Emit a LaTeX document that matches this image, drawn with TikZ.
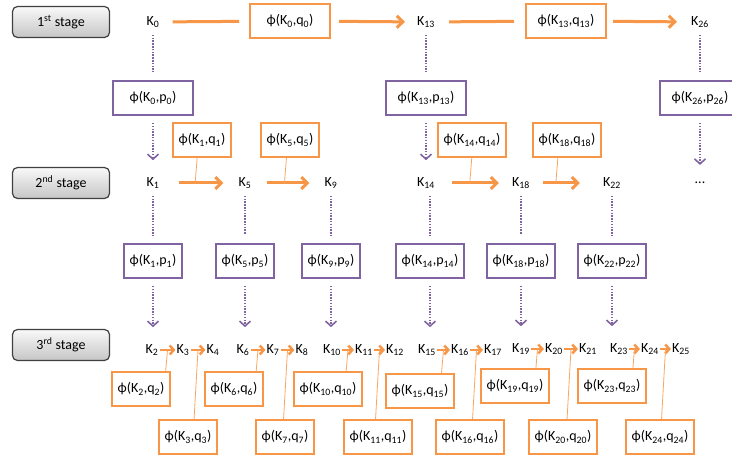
\documentclass[tikz,border=0pt]{standalone}
\usepackage{fontspec}
\setmainfont{Carlito}
\usetikzlibrary{arrows.meta}
\definecolor{keyorange}{HTML}{F79646}
\definecolor{keypurple}{HTML}{8064A2}
\newcommand{\K}[1]{K\textsubscript{#1}}
\newcommand{\fq}[1]{ϕ(K\textsubscript{#1},q\textsubscript{#1})}
\newcommand{\fp}[1]{ϕ(K\textsubscript{#1},p\textsubscript{#1})}

\begin{document}
\begin{tikzpicture}[x=1pt,y=-1pt,font=\fontsize{14pt}{16pt}\selectfont,
  stagebox/.style={draw=black!75, line width=1.2pt, rounded corners=5pt,
    top color=gray!5, bottom color=gray!45, minimum width=97pt, minimum height=31pt},
  keynode/.style={inner sep=1pt},
  qbox/.style={draw=keyorange, line width=2pt, fill=white, minimum height=34pt, inner xsep=6pt},
  pbox/.style={draw=keypurple, line width=2pt, fill=white, minimum height=34pt, inner xsep=6pt},
  wide/.style={minimum width=80pt},
  qline/.style={draw=keyorange, line width=3pt},
  qarrow/.style={qline, -{Straight Barb[length=6pt,width=12pt]}},
  qtie/.style={draw=keyorange!85, line width=0.8pt},
  pline/.style={draw=keypurple, line width=2pt, dash pattern=on 1.5pt off 1.3pt, shorten <=6pt, shorten >=8pt},
  parrow/.style={pline, -{Straight Barb[length=5pt,width=11pt,line width=1.6pt]}, shorten <=7pt, shorten >=16pt}]
  %%%%% START %%%%%
  \useasboundingbox (0,0) rectangle (732,457);

  \node[stagebox] (s1) at (61,22) {1\textsuperscript{st} stage};
  \node[stagebox] (s2) at (61,183) {2\textsuperscript{nd} stage};
  \node[stagebox] (s3) at (61,345) {3\textsuperscript{rd} stage};

  % 1st stage
  \node[keynode] (k0) at (153,22) {\K{0}};
  \node[keynode] (k13) at (426,22) {\K{13}};
  \node[keynode] (k26) at (700,22) {\K{26}};
  \node[qbox,wide] (q0) at (290,21) {\fq{0}};
  \node[qbox,wide] (q13) at (566,21) {\fq{13}};
  \node[pbox,wide] (p0) at (153,98) {\fp{0}};
  \node[pbox,wide] (p13) at (426,98) {\fp{13}};
  \node[pbox,wide] (p26) at (700,98) {\fp{26}};

  \draw[qline, shorten <=12pt, shorten >=10pt] (k0) -- (q0);
  \draw[qarrow, shorten <=8pt, shorten >=11pt] (q0) -- (k13);
  \draw[qline, shorten <=13pt, shorten >=11pt] (k13) -- (q13);
  \draw[qarrow, shorten <=6pt, shorten >=13pt] (q13) -- (k26);

  % 2nd stage
  \node[keynode] (k1) at (153,183) {\K{1}};
  \node[keynode] (k5) at (245,183) {\K{5}};
  \node[keynode] (k9) at (331,183) {\K{9}};
  \node[keynode] (k14) at (426,183) {\K{14}};
  \node[keynode] (k18) at (521,183) {\K{18}};
  \node[keynode] (k22) at (612,183) {\K{22}};
  \node[keynode] (kdots) at (700,183) {...};

  \draw[pline] (k0) -- (p0);
  \draw[pline] (k13) -- (p13);
  \draw[pline] (k26) -- (p26);
  \draw[parrow] (p0) -- (k1);
  \draw[parrow] (p13) -- (k14);
  \draw[parrow] (p26) -- (kdots);

  \node[qbox] (q1) at (202,140) {\fq{1}};
  \node[qbox] (q5) at (290,140) {\fq{5}};
  \node[qbox] (q14) at (472,140) {\fq{14}};
  \node[qbox] (q18) at (567,140) {\fq{18}};

  \draw[qarrow, shorten <=18pt, shorten >=14pt] (k1) -- coordinate[pos=.45] (m1) (k5);
  \draw[qarrow, shorten <=14pt, shorten >=14pt] (k5) -- coordinate[pos=.45] (m5) (k9);
  \draw[qarrow, shorten <=16pt, shorten >=12pt] (k14) -- coordinate[pos=.45] (m14) (k18);
  \draw[qarrow, shorten <=12pt, shorten >=22pt] (k18) -- coordinate[pos=.35] (m18) (k22);
  \draw[qtie] ([xshift=2pt]m1 |- q1.south) -- (m1);
  \draw[qtie] ([xshift=2pt]m5 |- q5.south) -- (m5);
  \draw[qtie] ([xshift=2pt]m14 |- q14.south) -- (m14);
  \draw[qtie] ([xshift=2pt]m18 |- q18.south) -- (m18);

  \node[pbox] (p1) at (153,261) {\fp{1}};
  \node[pbox] (p5) at (245,261) {\fp{5}};
  \node[pbox] (p9) at (331,261) {\fp{9}};
  \node[pbox] (p14) at (430,261) {\fp{14}};
  \node[pbox] (p18) at (521,261) {\fp{18}};
  \node[pbox] (p22) at (612,261) {\fp{22}};

  \draw[pline] (k1) -- (p1);
  \draw[pline] (k5) -- (p5);
  \draw[pline] (k9) -- (p9);
  \draw[pline] (k14.south -| p14) -- (p14);
  \draw[pline] (k18) -- (p18);
  \draw[pline] (k22) -- (p22);

  % 3rd stage
  \node[keynode] (k2) at (152,350) {\K{2}};
  \node[keynode] (k3) at (183,350) {\K{3}};
  \node[keynode] (k4) at (213,350) {\K{4}};
  \node[keynode] (k6) at (243,350) {\K{6}};
  \node[keynode] (k7) at (273,350) {\K{7}};
  \node[keynode] (k8) at (302,350) {\K{8}};
  \node[keynode] (k10) at (332,350) {\K{10}};
  \node[keynode] (k11) at (364,350) {\K{11}};
  \node[keynode] (k12) at (395,350) {\K{12}};
  \node[keynode] (k15) at (427,350) {\K{15}};
  \node[keynode] (k16) at (460,350) {\K{16}};
  \node[keynode] (k17) at (493,350) {\K{17}};
  \node[keynode] (k19) at (521,349) {\K{19}};
  \node[keynode] (k20) at (554,349) {\K{20}};
  \node[keynode] (k21) at (588,349) {\K{21}};
  \node[keynode] (k23) at (619,349) {\K{23}};
  \node[keynode] (k24) at (650,349) {\K{24}};
  \node[keynode] (k25) at (681,349) {\K{25}};

  \draw[parrow] (p1) -- (p1.south |- k2.north);
  \draw[parrow] (p5) -- (p5.south |- k6.north);
  \draw[parrow] (p9) -- (p9.south |- k10.north);
  \draw[parrow] (p14) -- (p14.south |- k15.north);
  \draw[parrow] (p18) -- (p18.south |- k19.north);
  \draw[parrow] (p22) -- (p22.south |- k23.north);

  \foreach \a/\b in {2/3,3/4,6/7,7/8,10/11,11/12,15/16,16/17,19/20,20/21,23/24,24/25}
    \draw[qarrow, line width=2.5pt, -{Straight Barb[length=4pt,width=9pt]}] (k\a) -- coordinate[pos=.5] (m\a) (k\b);

  \foreach \i in {3,7,11,16,20,24}
    \draw[qtie] (m\i) -- ([xshift=-4pt]m\i |- 0,420);
  \foreach \i in {2,6,10,15,19,23}
    \draw[qtie] (m\i) -- ([xshift=-2pt]m\i |- 0,373);

  \node[qbox] (q2) at (141,389) {\fq{2}};
  \node[qbox] (q6) at (234,389) {\fq{6}};
  \node[qbox] (q10) at (328,389) {\fq{10}};
  \node[qbox] (q15) at (420,391) {\fq{15}};
  \node[qbox] (q19) at (515,386) {\fq{19}};
  \node[qbox] (q23) at (612,386) {\fq{23}};
  \node[qbox] (q3) at (188,437) {\fq{3}};
  \node[qbox] (q7) at (285,437) {\fq{7}};
  \node[qbox] (q11) at (378,437) {\fq{11}};
  \node[qbox] (q16) at (470,437) {\fq{16}};
  \node[qbox] (q20) at (563,437) {\fq{20}};
  \node[qbox] (q24) at (660,437) {\fq{24}};
  %%%%% END %%%%%
\end{tikzpicture}
\end{document}
